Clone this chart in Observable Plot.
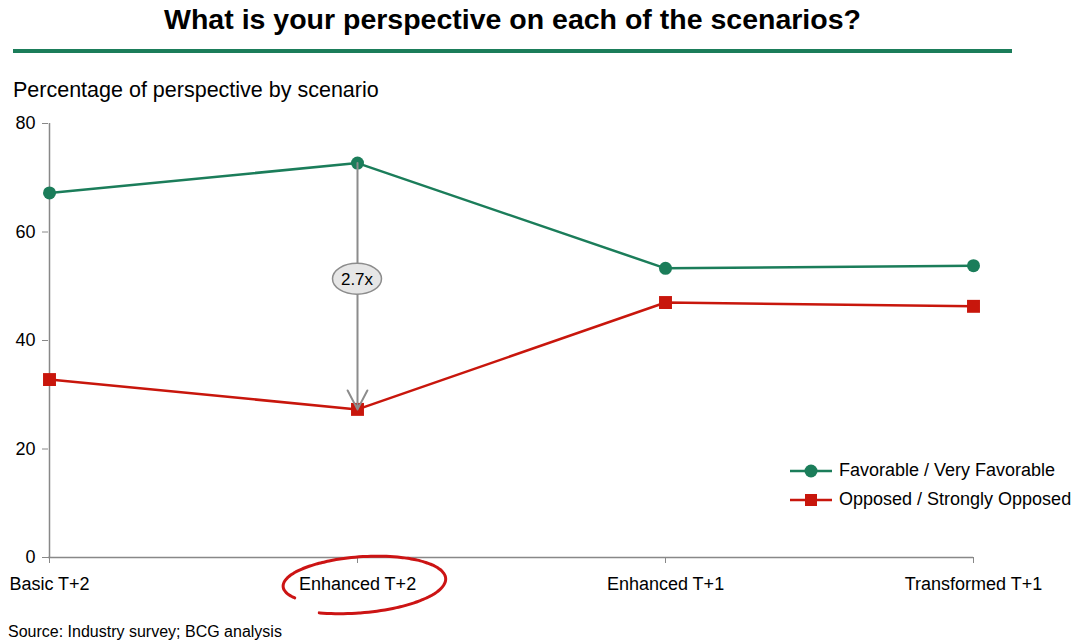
<!DOCTYPE html>
<html><head><meta charset="utf-8">
<script src="https://cdn.jsdelivr.net/npm/d3@7"></script>
<script src="https://cdn.jsdelivr.net/npm/@observablehq/plot@0.6"></script>
<style>
body{margin:0;background:#fff;font-family:"Liberation Sans",Arial,sans-serif;color:#000;}
#wrap{position:relative;width:1073px;height:644px;overflow:hidden;background:#fff;}
#title{position:absolute;top:3px;left:0;width:1025px;text-align:center;font-weight:bold;font-size:28.5px;}
#rule{position:absolute;top:49px;left:13px;width:999px;height:4px;background:#1b7d5a;}
#subtitle{position:absolute;top:78px;left:13px;font-size:21.5px;z-index:2;}
#chart{position:absolute;top:100px;left:0;z-index:1;}
#source{position:absolute;top:623px;left:8px;font-size:16px;}
#legend{position:absolute;left:790px;top:456px;font-size:18px;z-index:3;}
.lrow{display:flex;align-items:center;height:29px;}
.lrow svg{margin-right:7px;}
</style></head>
<body><div id="wrap">
<div id="title"></div><div id="rule"></div><div id="subtitle"></div>
<div id="chart"></div><div id="legend"></div><div id="source"></div>
</div>
<script>
const titleText = "What is your perspective on each of the scenarios?";
const subtitleText = "Percentage of perspective by scenario";
const sourceText = "Source: Industry survey; BCG analysis";
const scenarios = ["Basic T+2","Enhanced T+2","Enhanced T+1","Transformed T+1"];
const favorable = [67.2,72.7,53.3,53.8];
const opposed = [32.8,27.3,47.0,46.3];
const yTicks = [0,20,40,60,80];
const seriesNames = ["Favorable / Very Favorable","Opposed / Strongly Opposed"];
const seriesColors = ["#1b7d5a","#c8160c"];
const annotationLabel = "2.7x";
const highlight = "Enhanced T+2";

document.getElementById("title").textContent = titleText;
document.getElementById("subtitle").textContent = subtitleText;
document.getElementById("source").textContent = sourceText;

const favData = scenarios.map((s,i)=>({scenario:s, series:seriesNames[0], value:favorable[i]}));
const oppData = scenarios.map((s,i)=>({scenario:s, series:seriesNames[1], value:opposed[i]}));
const data = favData.concat(oppData);
const hi = scenarios.indexOf(highlight);

const plot = Plot.plot({
  width:1073, height:520, marginTop:23, marginBottom:63, marginLeft:48, marginRight:100,
  style:{fontFamily:"Liberation Sans, Arial, sans-serif", fontSize:"18px", color:"#000", background:"transparent"},
  x:{type:"point", domain:scenarios, padding:0, label:null},
  y:{domain:[0,80], label:null},
  color:{domain:seriesNames, range:seriesColors},
  marks:[
    Plot.ruleY([0], {stroke:"#888", strokeWidth:1.5}),
    Plot.ruleX([scenarios[0]], {y1:0, y2:80, stroke:"#888", strokeWidth:1.5}),
    Plot.axisY({ticks:yTicks, tickSize:6, tickPadding:7, stroke:"#888", label:null}),
    Plot.axisX({tickSize:6, tickPadding:14, stroke:"#888", label:null}),
    Plot.line(data, {x:"scenario", y:"value", z:"series", stroke:"series", strokeWidth:2.5}),
    Plot.dot(favData, {x:"scenario", y:"value", fill:"series", symbol:"circle", r:6.5}),
    Plot.dot(oppData, {x:"scenario", y:"value", fill:"series", symbol:"square", r:7.3}),
    Plot.arrow([{f:favorable[hi], o:opposed[hi]}], {x1:()=>highlight, x2:()=>highlight, y1:"f", y2:"o", stroke:"#8c8c8c", strokeWidth:2, headLength:16, headAngle:55, insetStart:0, insetEnd:0})
  ]
});
document.getElementById("chart").appendChild(plot);

// annotations derived from the scales
const xs = plot.scale("x"), ys = plot.scale("y");
const svg = d3.select(plot);
const cx = xs.apply(highlight);
const cy = (ys.apply(favorable[hi]) + ys.apply(opposed[hi]))/2 - 7;
const g = svg.append("g");
g.append("ellipse").attr("cx",cx).attr("cy",cy).attr("rx",24.5).attr("ry",15.5)
  .attr("fill","#e6e6e6").attr("stroke","#8c8c8c").attr("stroke-width",1.5);
g.append("text").attr("x",cx).attr("y",cy).attr("dy","0.36em").attr("text-anchor","middle")
  .attr("font-size",17).attr("fill","#000").text(annotationLabel);

// hand-drawn highlight loop around the x label
const ly = ys.apply(0) + 27;
const pts = [];
const n = 120, a0 = 116*Math.PI/180, a1 = -205*Math.PI/180, rot = -4*Math.PI/180;
for (let i=0;i<=n;i++){
  const t = i/n;
  const a = a0 + (a1-a0)*t;
  const s = 1.04 - 0.24*Math.pow(t,2.5);
  const ex = 87*s*Math.cos(a), ey = 28*s*Math.sin(a);
  pts.push([cx + ex*Math.cos(rot) - ey*Math.sin(rot), ly + ex*Math.sin(rot) + ey*Math.cos(rot)]);
}
svg.append("path").attr("d", d3.line().curve(d3.curveBasis)(pts))
  .attr("fill","none").attr("stroke","#cc1414").attr("stroke-width",3).attr("stroke-linecap","round");

// legend
const legend = d3.select("#legend");
seriesNames.forEach((name,i)=>{
  const row = legend.append("div").attr("class","lrow");
  const s = row.append("svg").attr("width",42).attr("height",16);
  s.append("line").attr("x1",0).attr("x2",42).attr("y1",8).attr("y2",8).attr("stroke",seriesColors[i]).attr("stroke-width",2.5);
  if (i===0) s.append("circle").attr("cx",21).attr("cy",8).attr("r",6.5).attr("fill",seriesColors[i]);
  else s.append("rect").attr("x",15).attr("y",2).attr("width",12).attr("height",12).attr("fill",seriesColors[i]);
  row.append("span").text(name);
});
</script>
</body></html>
